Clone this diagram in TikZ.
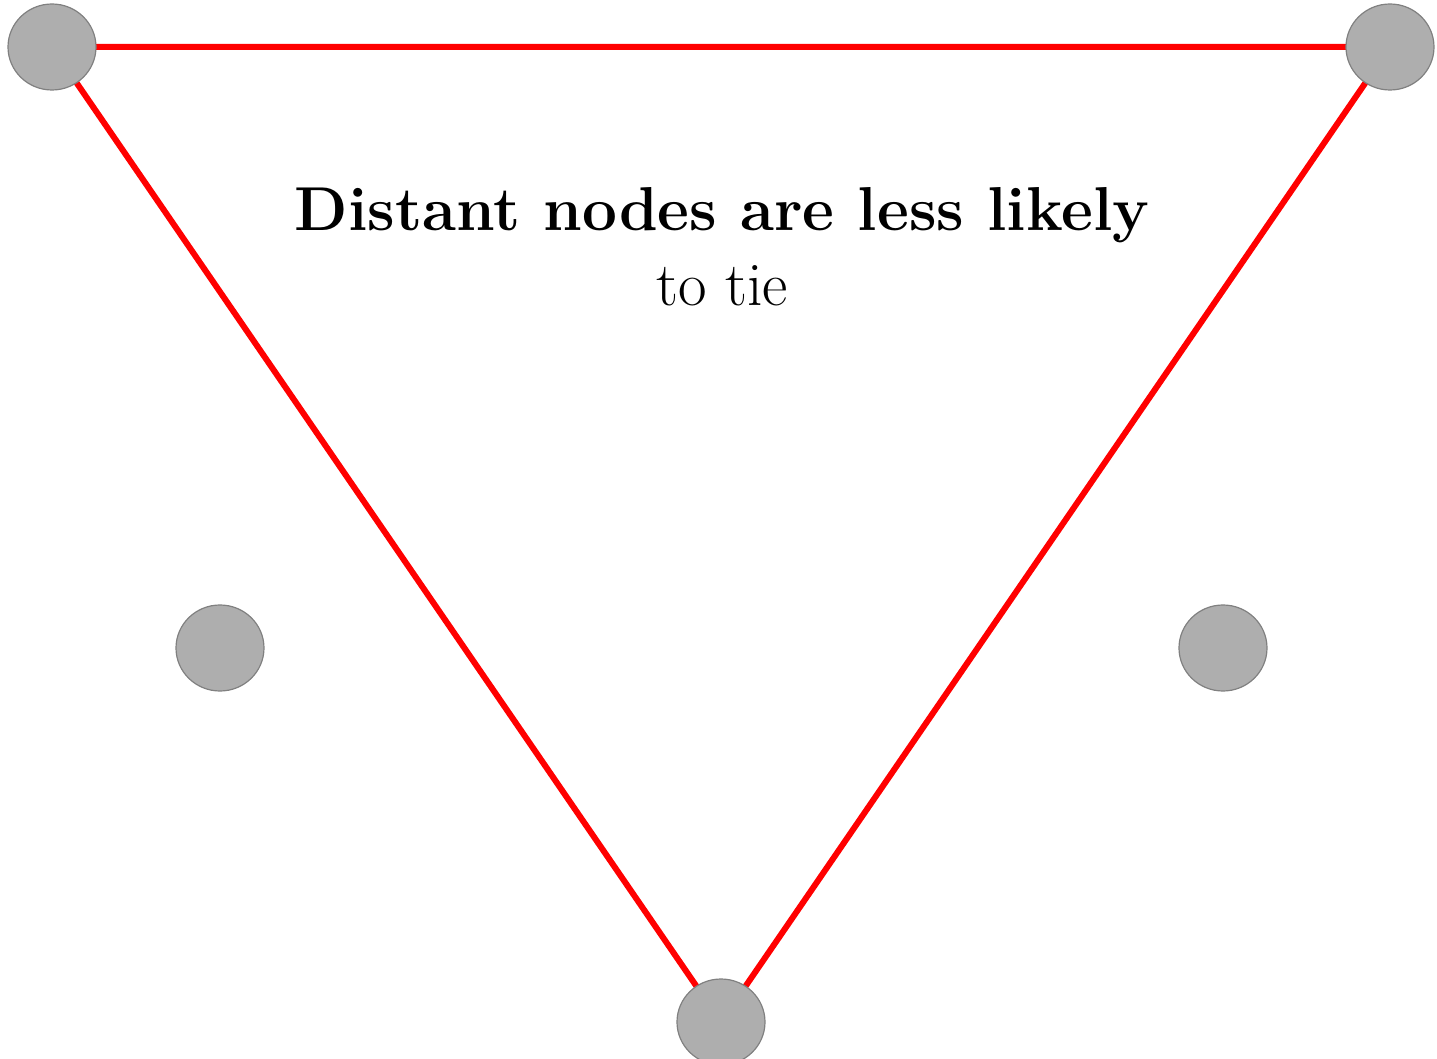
\documentclass[tikz,border=0pt]{standalone}
\usetikzlibrary{shapes.geometric}
\begin{document}
\begin{tikzpicture}[x=0.5pt,y=-0.5pt,
  dot/.style={ellipse, minimum width=44pt, minimum height=43pt, inner sep=0pt, fill=dotgray, draw=dotedge, line width=0.6pt},
  tie/.style={red, line width=3pt}]
\definecolor{dotgray}{HTML}{AEAEAE}
\definecolor{dotedge}{HTML}{808080}
\useasboundingbox (0,0) rectangle (1437,1059);
\coordinate (A) at (52,47);
\coordinate (B) at (1390,47);
\coordinate (C) at (721,1022);
\draw[tie] (A) -- (B) -- (C) -- cycle;
\node[dot] (a) at (A) {};
\node[dot] (b) at (B) {};
\node[dot] (c) at (C) {};
\node[dot] (d) at (220,648) {};
\node[dot] (e) at (1223,648) {};
\node[align=center, font=\fontsize{31}{37.5}\selectfont] (t) at (722,247) {\textbf{Distant nodes are less likely}\\to tie};
\end{tikzpicture}
\end{document}
